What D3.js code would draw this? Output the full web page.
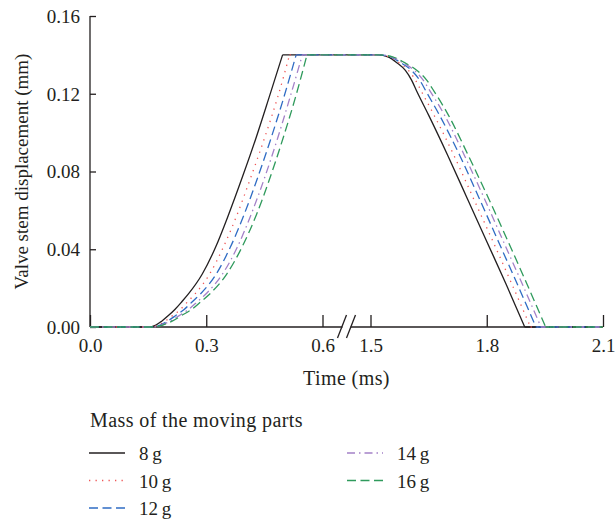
<!DOCTYPE html>
<html>
<head>
<meta charset="utf-8">
<script src="https://cdn.jsdelivr.net/npm/d3@7"></script>
<style>
  body { margin: 0; background: #fff; }
  svg { display: block; font-family: "Liberation Serif", serif; }
</style>
</head>
<body>
<div id="wrapper"></div>
<script>
// series names (mass of the moving parts)
const masses = ["8\u2009g", "10\u2009g", "12\u2009g", "14\u2009g", "16\u2009g"]

// rise part: displacement levels (mm) and the time (ms) each curve reaches them
const riseLevels = [0, 0.001, 0.003, 0.006, 0.009, 0.013, 0.017, 0.027, 0.041, 0.058, 0.077, 0.097, 0.118, 0.14]
const riseTimes = [
  [0.150, 0.170, 0.185, 0.203, 0.219, 0.237, 0.254, 0.289, 0.324, 0.358, 0.393, 0.428, 0.462, 0.497],
  [0.155, 0.176, 0.194, 0.214, 0.233, 0.252, 0.271, 0.308, 0.344, 0.380, 0.415, 0.450, 0.484, 0.515],
  [0.158, 0.181, 0.200, 0.222, 0.243, 0.264, 0.285, 0.325, 0.362, 0.398, 0.433, 0.467, 0.500, 0.532],
  [0.160, 0.184, 0.207, 0.231, 0.254, 0.277, 0.299, 0.341, 0.380, 0.416, 0.451, 0.484, 0.516, 0.548],
  [0.162, 0.188, 0.212, 0.237, 0.262, 0.286, 0.309, 0.352, 0.392, 0.430, 0.465, 0.498, 0.530, 0.560]
]

// fall part: displacement levels (mm) and times (ms)
const fallLevels = [0.14, 0.139, 0.136, 0.132, 0.127, 0.121, 0.109, 0.088, 0.066, 0.044, 0.022, 0]
const fallTimes = [
  [1.52, 1.545, 1.568, 1.590, 1.606, 1.620, 1.650, 1.700, 1.750, 1.800, 1.850, 1.898],
  [1.52, 1.548, 1.573, 1.598, 1.616, 1.632, 1.664, 1.716, 1.766, 1.816, 1.865, 1.913],
  [1.52, 1.551, 1.578, 1.606, 1.627, 1.644, 1.678, 1.731, 1.781, 1.830, 1.879, 1.927],
  [1.52, 1.554, 1.583, 1.613, 1.636, 1.655, 1.691, 1.743, 1.794, 1.843, 1.892, 1.940],
  [1.52, 1.557, 1.588, 1.620, 1.645, 1.665, 1.701, 1.753, 1.805, 1.855, 1.904, 1.952]
]

// axis ticks
const xTicksLeft = [0.0, 0.3, 0.6]
const xTicksRight = [1.5, 1.8, 2.1]
const yTicks = [0, 0.04, 0.08, 0.12, 0.16]

function drawChart() {
  const dimensions = {
    width: 615,
    height: 522,
    margin: { top: 16, left: 90 },
    boundedWidth: 513,
    boundedHeight: 311,
    gap: 48
  }

  const styles = [
    { color: "#231f20", dash: null, width: 1.3 },
    { color: "#ef5656", dash: "1.3,5.2", width: 1.3 },
    { color: "#2f6cc4", dash: "9,4.5", width: 1.3 },
    { color: "#a481c8", dash: "8,4,1.5,4", width: 1.3 },
    { color: "#2f9a5c", dash: "9,4.5", width: 1.3 }
  ]

  // build each series from the arrays above, kept in three pieces
  // so the corners at the top-left and bottom-right stay sharp
  const series = masses.map((m, i) => {
    const rise = [[0, 0]]
    riseTimes[i].forEach((t, j) => rise.push([t, riseLevels[j]]))
    const fall = [rise[rise.length - 1]]
    fallTimes[i].forEach((t, j) => fall.push([t, fallLevels[j]]))
    const tail = [fall[fall.length - 1], [2.1, 0]]
    return { name: m, pieces: [rise, fall, tail], style: styles[i] }
  })

  const svg = d3.select("#wrapper")
    .append("svg")
      .attr("width", dimensions.width)
      .attr("height", dimensions.height)

  const bounds = svg.append("g")
    .attr("transform", `translate(${dimensions.margin.left},${dimensions.margin.top})`)

  // broken x axis: piecewise linear scale
  const segW = (dimensions.boundedWidth - dimensions.gap) / 2
  const xScale = d3.scaleLinear()
    .domain([0, 0.6, 1.5, 2.1])
    .range([0, segW, segW + dimensions.gap, dimensions.boundedWidth])

  const yScale = d3.scaleLinear()
    .domain([0, 0.16])
    .range([dimensions.boundedHeight, 0])

  const fontSize = "19px"

  // y axis
  const yAxis = bounds.append("g")
    .call(d3.axisRight(yScale).tickValues(yTicks).tickSize(6).tickFormat(d3.format(".2f")))
  yAxis.select(".domain").remove()
  yAxis.append("line")
    .attr("y1", 0).attr("y2", dimensions.boundedHeight)
    .attr("stroke", "#231f20").attr("stroke-width", 1.3)
  yAxis.selectAll(".tick line").attr("stroke", "#231f20").attr("stroke-width", 1.3)
  yAxis.selectAll(".tick text")
    .attr("x", -10)
    .attr("dy", "0.34em")
    .attr("text-anchor", "end")
    .attr("fill", "#231f20")
    .style("font-size", fontSize)
    .style("font-family", "Liberation Serif")

  // x axis (ticks point up)
  const xAxis = bounds.append("g")
    .attr("transform", `translate(0,${dimensions.boundedHeight})`)
    .call(d3.axisTop(xScale).tickValues(xTicksLeft.concat(xTicksRight)).tickSize(12).tickFormat(d3.format(".1f")))
  xAxis.select(".domain").remove()
  xAxis.selectAll(".tick line").attr("stroke", "#231f20").attr("stroke-width", 1.3)
  xAxis.selectAll(".tick text")
    .attr("y", 25)
    .attr("dy", 0)
    .attr("fill", "#231f20")
    .style("font-size", fontSize)
    .style("font-family", "Liberation Serif")

  // axis line with a break between the two segments
  const breakX = (xScale(0.6) + xScale(1.5)) / 2
  xAxis.append("line")
    .attr("x1", 0).attr("x2", breakX - 4)
    .attr("stroke", "#231f20").attr("stroke-width", 1.3)
  xAxis.append("line")
    .attr("x1", breakX + 4).attr("x2", dimensions.boundedWidth)
    .attr("stroke", "#231f20").attr("stroke-width", 1.3)
  ;[-4.5, 4.5].forEach(off => {
    xAxis.append("line")
      .attr("x1", breakX + off - 4.5).attr("y1", 11)
      .attr("x2", breakX + off + 4.5).attr("y2", -12)
      .attr("stroke", "#231f20").attr("stroke-width", 1.3)
  })

  // curves
  const lineGen = d3.line()
    .x(d => xScale(d[0]))
    .y(d => yScale(d[1]))
    .curve(d3.curveMonotoneX)

  bounds.selectAll(".curve")
    .data(series)
    .join("path")
      .attr("class", "curve")
      .attr("d", d => d.pieces.map(p => lineGen(p)).join(""))
      .attr("fill", "none")
      .attr("stroke", d => d.style.color)
      .attr("stroke-width", d => d.style.width)
      .attr("stroke-dasharray", d => d.style.dash)

  // axis labels
  svg.append("text")
    .attr("x", dimensions.margin.left + breakX)
    .attr("y", 385)
    .attr("text-anchor", "middle")
    .attr("fill", "#231f20")
    .style("font-size", "20px")
    .style("letter-spacing", "0.4px")
    .text("Time (ms)")

  svg.append("text")
    .attr("transform", `translate(28,${dimensions.margin.top + dimensions.boundedHeight / 2}) rotate(-90)`)
    .attr("text-anchor", "middle")
    .attr("fill", "#231f20")
    .style("font-size", fontSize)
    .text("Valve stem displacement (mm)")

  // legend
  const legend = svg.append("g")
  legend.append("text")
    .attr("x", 90)
    .attr("y", 427)
    .attr("fill", "#231f20")
    .style("font-size", "20px")
    .style("letter-spacing", "0.4px")
    .text("Mass of the moving parts")

  const legendPos = [[0, 0], [0, 1], [0, 2], [1, 0], [1, 1]]
  const colX = [89, 347]
  const rowY = [453, 480.5, 508]
  series.forEach((s, i) => {
    const [c, r] = legendPos[i]
    legend.append("line")
      .attr("x1", colX[c]).attr("x2", colX[c] + 36)
      .attr("y1", rowY[r]).attr("y2", rowY[r])
      .attr("stroke", s.style.color)
      .attr("stroke-width", s.style.width)
      .attr("stroke-dasharray", s.style.dash)
    legend.append("text")
      .attr("x", colX[c] + 50)
      .attr("y", rowY[r] + 7)
      .attr("fill", "#231f20")
      .style("font-size", fontSize)
      .text(s.name)
  })
}
drawChart()
</script>
</body>
</html>
